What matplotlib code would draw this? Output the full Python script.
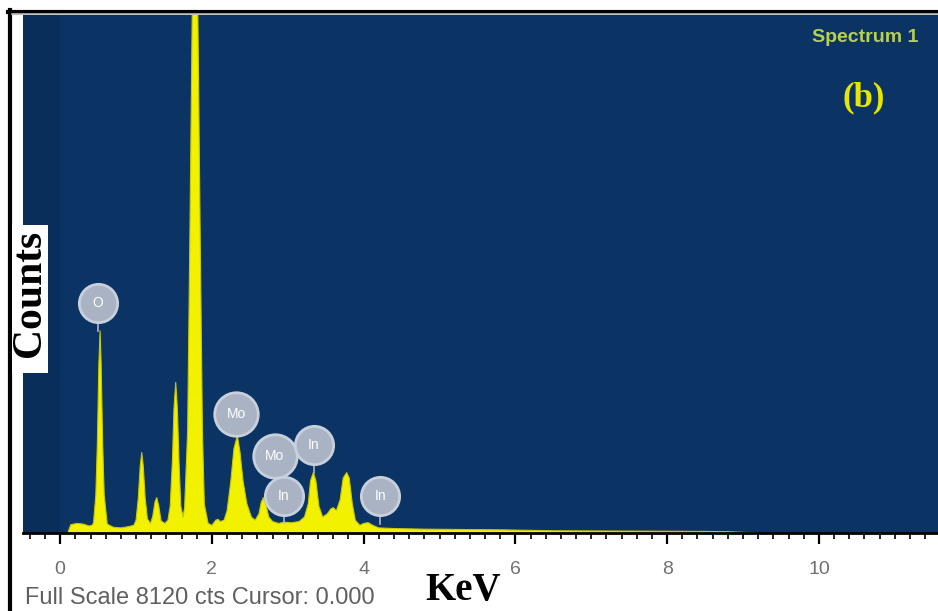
import matplotlib
matplotlib.use("Agg")
import matplotlib.pyplot as plt
from matplotlib.lines import Line2D
from matplotlib.patches import Rectangle

# EDS spectrum, vertices (keV, counts)
energy = [0.10, 0.14, 0.22, 0.30, 0.38, 0.42,
          0.44, 0.47, 0.49, 0.51, 0.526, 0.54, 0.56, 0.58, 0.62,
          0.70, 0.80, 0.90, 0.97,
          1.00, 1.03, 1.055, 1.075, 1.095, 1.12, 1.15, 1.19,
          1.22, 1.25, 1.273, 1.30, 1.33, 1.38, 1.42,
          1.45, 1.48, 1.50, 1.523, 1.545, 1.565, 1.59, 1.62, 1.64,
          1.68, 1.71, 1.74, 1.765, 1.778, 1.79, 1.815, 1.845, 1.875, 1.90,
          1.95, 2.00, 2.05, 2.08, 2.11, 2.16,
          2.20, 2.25, 2.29, 2.335, 2.37, 2.41, 2.46, 2.52, 2.57,
          2.62, 2.65, 2.678, 2.71, 2.75,
          2.80, 2.88, 2.95, 3.05, 3.15, 3.22,
          3.27, 3.30, 3.337, 3.37, 3.41, 3.46,
          3.52, 3.57, 3.60, 3.64,
          3.69, 3.73, 3.776, 3.81, 3.85, 3.89,
          3.95, 4.00, 4.06, 4.12, 4.20, 4.40, 4.80, 5.30, 5.80, 6.50, 7.50, 8.50, 8.80, 9.20]
counts = [0, 130, 150, 140, 110, 120,
          160, 600, 1400, 2650, 3170, 2650, 1400, 600, 140,
          90, 80, 100, 120,
          200, 550, 1050, 1261, 1050, 550, 220, 150,
          260, 490, 555, 420, 190, 150, 200,
          420, 1150, 1950, 2361, 1950, 1150, 420, 250, 400,
          1600, 4700, 8100, 9600, 9700, 9600, 8100, 4700, 1600, 450,
          150, 120, 200, 215, 180, 200,
          350, 820, 1320, 1523, 1270, 820, 460, 250, 200,
          300, 480, 555, 450, 250,
          180, 150, 170, 160, 180, 250,
          460, 820, 947, 820, 420, 250,
          300, 380, 397, 350,
          520, 860, 947, 860, 460, 200,
          120, 150, 162, 120, 80, 70, 60, 55, 50, 35, 30, 25, 20, 0]

# peak labels: element, energy of the line marked
label_names = ["O", "Mo", "Mo", "In", "In", "In"]
label_energy = [0.50, 2.32, 2.83, 3.34, 2.95, 4.22]
label_peak = [3170, 1523, 1230, 947, 150, 140]
label_y = [3612, 1869, 1209, 1382, 581, 581]

major_ticks = [0, 2, 4, 6, 8, 10]

BG = "#0b3464"

fig = plt.figure(figsize=(9.38, 6.11), dpi=100)
fig.patch.set_facecolor("white")
ax = fig.add_axes([23 / 938, 78 / 611, 915 / 938, 518 / 611])
ax.set_facecolor(BG)
ax.set_xlim(-0.49, 11.57)
ax.set_ylim(0, 8120)

ax.axvspan(-0.49, 0, color="#0a2e5a", lw=0)
ax.fill_between(energy, counts, color="#f2f200", lw=0, zorder=2)
ax.plot(energy, counts, color="#c9c900", lw=0.8, zorder=2)

for name, e, yp, yl in zip(label_names, label_energy, label_peak, label_y):
    ax.plot([e, e], [yp, yl], color="#b0b8c6", lw=1.2, zorder=3)
    s = 980 if name == "Mo" else 760
    ax.scatter([e], [yl], s=s, color="#a9b3c4", edgecolor="#c8d0dc", lw=2, zorder=4)
    ax.text(e, yl, name, ha="center", va="center", color="white", fontsize=10,
            family="Liberation Sans", zorder=5)

for s in ["top", "left", "right"]:
    ax.spines[s].set_visible(False)
ax.spines["bottom"].set_color("black")
ax.spines["bottom"].set_linewidth(2)
ax.set_yticks([])
ax.set_xticks(major_ticks)
ax.set_xticks([i * 0.2 for i in range(-2, 58)], minor=True)
ax.tick_params(axis="x", which="major", direction="out", length=8, width=1.6,
               color="black", labelcolor="#707070", labelsize=14, pad=12)
ax.tick_params(axis="x", which="minor", direction="out", length=4, width=1.2, color="black")
for lab in ax.get_xticklabels():
    lab.set_family("Liberation Sans")

# outer frame
fig.add_artist(Line2D([9.5 / 938, 9.5 / 938], [0, 1 - 10 / 611], color="black", lw=3))
fig.add_artist(Line2D([8 / 938, 1], [1 - 11.5 / 611, 1 - 11.5 / 611], color="black", lw=3))
fig.add_artist(Line2D([12 / 938, 1], [1 - 14 / 611, 1 - 14 / 611], color="#b8b8b8", lw=1.2))

# axis titles
fig.add_artist(Rectangle((12 / 938, 1 - 373 / 611), 36 / 938, 148 / 611,
                         transform=fig.transFigure, facecolor="white", lw=0, zorder=5))
fig.text(30 / 938, 1 - 293 / 611, "Counts", rotation=90, ha="center", va="center",
         fontsize=30, fontweight="bold", family="Liberation Serif", zorder=6)
fig.text(463 / 938, 1 - 600 / 611, "KeV", ha="center", va="baseline",
         fontsize=28, fontweight="bold", family="Liberation Serif")
fig.text(25 / 938, 1 - 604 / 611, "Full Scale 8120 cts Cursor: 0.000", ha="left", va="baseline",
         fontsize=17, color="#606060", family="Liberation Sans")

fig.text(812 / 938, 1 - 38 / 611, "Spectrum 1", ha="left", va="center",
         fontsize=14, fontweight="bold", color="#b8d050", family="Liberation Sans")
fig.text(864 / 938, 1 - 98 / 611, "(b)", ha="center", va="center",
         fontsize=25, fontweight="bold", color="#e6e600", family="Liberation Serif")

fig.savefig("out.png", dpi=100)
